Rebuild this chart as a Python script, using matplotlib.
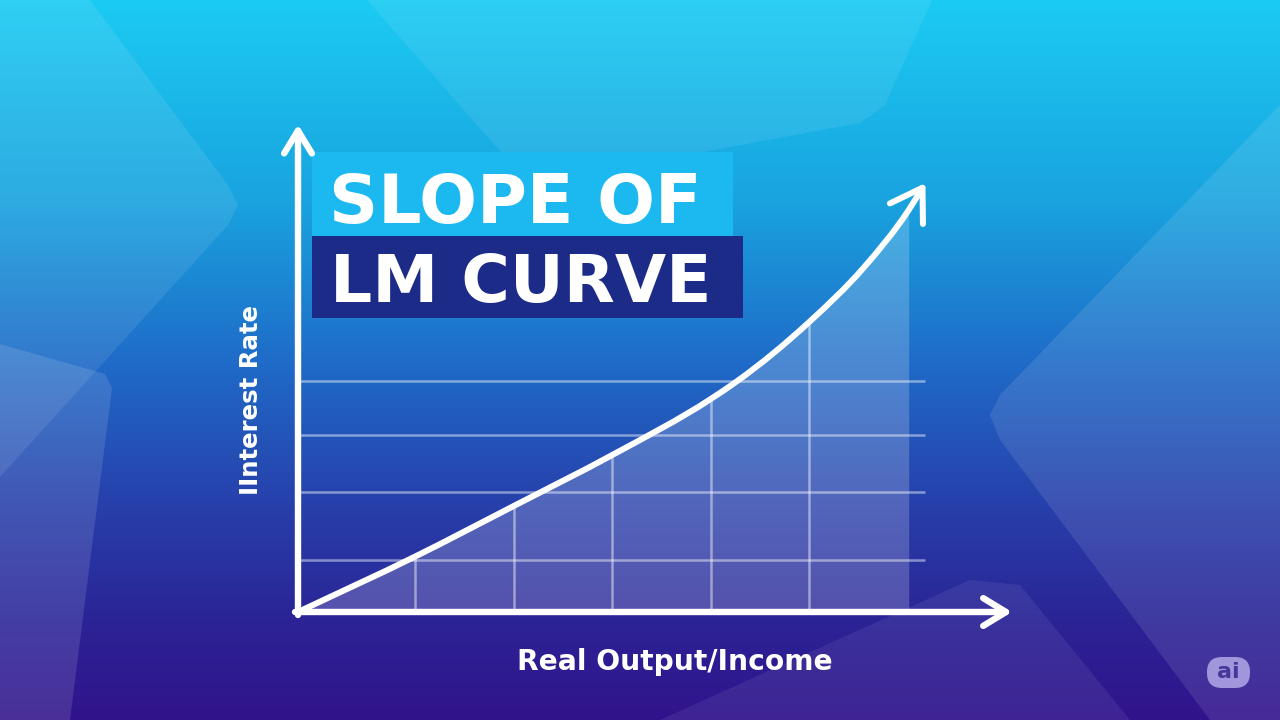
import numpy as np
import matplotlib
matplotlib.use("Agg")
import matplotlib.pyplot as plt
from matplotlib.patches import Polygon, Rectangle, FancyArrowPatch, FancyBboxPatch
from matplotlib.path import Path
from matplotlib.colors import to_rgb

# ---------------- data ----------------
output = [0.0, 1.19, 2.19, 3.19, 4.19, 4.46, 5.19, 5.74, 6.20, 6.37]
interest_rate = [0.0, 1.11, 2.12, 3.14, 4.26, 4.62, 5.80, 6.88, 8.04, 8.58]
grid_output = [1.19, 2.19, 3.19, 4.19, 5.19]
grid_rate = [1.04, 2.40, 3.55, 4.63]
shade_end = 6.20
title_lines = ["SLOPE OF", "LM CURVE"]
x_label = "Real Output/Income"
y_label = "IInterest Rate"
badge = "ai"

FONT = ["DejaVu Sans"]
W, H = 1280, 720
fig = plt.figure(figsize=(12.8, 7.2), dpi=100)

# ---------------- background ----------------
bg = fig.add_axes([0, 0, 1, 1])
bg.set_xlim(0, W)
bg.set_ylim(H, 0)
bg.axis("off")
stops = [(0.0, "#1ccbf3"), (0.28, "#19a3df"), (0.5, "#1f6cc8"),
         (0.7, "#2740ab"), (0.86, "#2b2496"), (1.0, "#31138c")]
pos = [p for p, _ in stops]
cols = np.array([to_rgb(c) for _, c in stops])
yy = np.linspace(0, 1, H)
grad = np.stack([np.interp(yy, pos, cols[:, i]) for i in range(3)], axis=-1)
img = np.repeat(grad[:, None, :], W, axis=1)
bg.imshow(img, extent=[0, W, H, 0], aspect="auto", zorder=0)

decor = [
    ([(0, 0), (90, 0), (228, 185), (238, 205), (228, 225), (0, 477)], 0.09),
    ([(0, 344), (105, 374), (112, 388), (70, 720), (0, 720)], 0.12),
    ([(367, 0), (515, 168), (540, 182), (860, 123), (885, 105), (932, 0)], 0.08),
    ([(1280, 105), (1000, 395), (990, 415), (1000, 440), (1210, 720), (1280, 720)], 0.10),
    ([(660, 720), (970, 580), (1020, 585), (1130, 720)], 0.07),
]
for verts, a in decor:
    bg.add_patch(Polygon(verts, closed=True, facecolor="white", alpha=a,
                         edgecolor="none", zorder=1))

# ---------------- chart ----------------
ax = fig.add_axes([298 / W, (H - 612) / H, 7.5 * 98.5 / W, 10 * 50 / H])
ax.set_xlim(0, 7.5)
ax.set_ylim(0, 10)
ax.axis("off")
ax.patch.set_alpha(0)

out = np.array(output)
rate = np.array(interest_rate)


def hermite_path(x, y):
    """Smooth cubic curve through the points (Bezier segments)."""
    h = np.diff(x)
    d = np.diff(y) / h
    m = np.empty_like(y)
    m[0], m[-1] = d[0], d[-1]
    m[1:-1] = (h[1:] * d[:-1] + h[:-1] * d[1:]) / (h[:-1] + h[1:])
    verts = [(x[0], y[0])]
    codes = [Path.MOVETO]
    for i in range(len(x) - 1):
        verts += [(x[i] + h[i] / 3, y[i] + m[i] * h[i] / 3),
                  (x[i + 1] - h[i] / 3, y[i + 1] - m[i + 1] * h[i] / 3),
                  (x[i + 1], y[i + 1])]
        codes += [Path.CURVE4] * 3
    return Path(np.array(verts), codes)


def sample_path(path, n=24):
    v = path.vertices
    t = np.linspace(0, 1, n)[:, None]
    pts = [v[:1]]
    for k in range(1, len(v), 3):
        p0, p1, p2, p3 = v[k - 1], v[k], v[k + 1], v[k + 2]
        seg = ((1 - t) ** 3) * p0 + 3 * ((1 - t) ** 2) * t * p1 + 3 * (1 - t) * t ** 2 * p2 + t ** 3 * p3
        pts.append(seg[1:])
    return np.vstack(pts)


curve_path = hermite_path(out, rate)

under = sample_path(curve_path)
under = under[under[:, 0] <= shade_end + 1e-9]
ax.fill_between(under[:, 0], 0, under[:, 1], color="white", alpha=0.2, lw=0, zorder=1)

ax.hlines(grid_rate, 0, out[-1], color="white", alpha=0.45, lw=1.8, zorder=2)
tops = np.interp(grid_output, out, rate)
ax.vlines(grid_output, 0, tops, color="white", alpha=0.45, lw=1.8, zorder=2)

curve = FancyArrowPatch(path=curve_path,
                        arrowstyle="->,head_length=1.1,head_width=0.7",
                        mutation_scale=20, lw=4.3, color="white",
                        capstyle="round", joinstyle="round", zorder=4)
ax.add_patch(curve)

for start, end in [((0, -0.06), (0, 9.75)), ((-0.03, 0), (7.25, 0))]:
    ax.add_patch(FancyArrowPatch(start, end,
                                 arrowstyle="->,head_length=0.82,head_width=0.5",
                                 mutation_scale=20, lw=4.6, color="white",
                                 shrinkA=0, shrinkB=0, capstyle="round",
                                 joinstyle="round", zorder=5, clip_on=False))

# ---------------- title boxes ----------------
bg.add_patch(Rectangle((312, 152), 421, 84, facecolor="#1bb9ef", edgecolor="none", zorder=6))
bg.add_patch(Rectangle((312, 236), 431, 82, facecolor="#1c2b88", edgecolor="none", zorder=6))

fig.canvas.draw()
renderer = fig.canvas.get_renderer()


def fit(t, target, vertical=False):
    bb = t.get_window_extent(renderer)
    cur = bb.height if vertical else bb.width
    t.set_fontsize(t.get_fontsize() * target / cur)


t1 = bg.text(329, 223, title_lines[0], color="white", fontsize=50, fontweight="bold",
             family=FONT, ha="left", va="baseline", zorder=7)
t2 = bg.text(330, 302, title_lines[1], color="white", fontsize=50, fontweight="bold",
             family=FONT, ha="left", va="baseline", zorder=7)
ty = bg.text(251, 400, y_label, color="white", fontsize=20, fontweight="bold",
             family=FONT, rotation=90, ha="center", va="center", zorder=7)
tx = bg.text(675, 662, x_label, color="white", fontsize=20, fontweight="bold",
             family=FONT, ha="center", va="center", zorder=7)
fit(t1, 373)
fit(t2, 382)
fit(ty, 190, vertical=True)
fit(tx, 315)

# ---------------- badge ----------------
bg.add_patch(FancyBboxPatch((1207, 657), 43, 31, boxstyle="round,pad=0,rounding_size=15",
                            facecolor="#b2a8e8", edgecolor="none", alpha=0.85, zorder=7))
bg.text(1228.5, 672, badge, color="#46379a", fontsize=16, fontweight="bold", family=FONT,
        ha="center", va="center", zorder=8)

fig.savefig("out.png", dpi=100)
